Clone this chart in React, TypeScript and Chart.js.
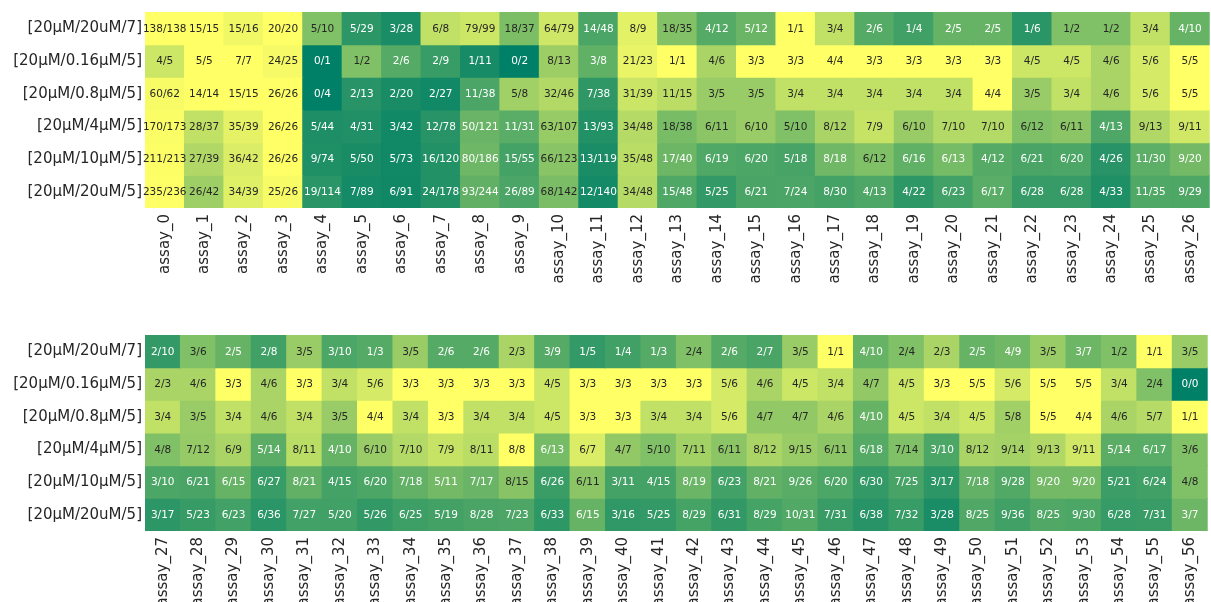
import React, { useEffect, useRef } from "react";
import { Chart, registerables } from "chart.js";

Chart.register(...registerables);

// Row conditions (same for both panels)
const conditions = [
  "[20µM/20uM/7]",
  "[20µM/0.16µM/5]",
  "[20µM/0.8µM/5]",
  "[20µM/4µM/5]",
  "[20µM/10µM/5]",
  "[20µM/20uM/5]",
];

// Upper panel: assay_0 .. assay_26
const assaysUpper = [
  "assay_0", "assay_1", "assay_2", "assay_3", "assay_4", "assay_5", "assay_6",
  "assay_7", "assay_8", "assay_9", "assay_10", "assay_11", "assay_12", "assay_13",
  "assay_14", "assay_15", "assay_16", "assay_17", "assay_18", "assay_19", "assay_20",
  "assay_21", "assay_22", "assay_23", "assay_24", "assay_25", "assay_26",
];

const upper_20_20_7 = ["138/138", "15/15", "15/16", "20/20", "5/10", "5/29", "3/28", "6/8", "79/99", "18/37", "64/79", "14/48", "8/9", "18/35", "4/12", "5/12", "1/1", "3/4", "2/6", "1/4", "2/5", "2/5", "1/6", "1/2", "1/2", "3/4", "4/10"];
const upper_20_016_5 = ["4/5", "5/5", "7/7", "24/25", "0/1", "1/2", "2/6", "2/9", "1/11", "0/2", "8/13", "3/8", "21/23", "1/1", "4/6", "3/3", "3/3", "4/4", "3/3", "3/3", "3/3", "3/3", "4/5", "4/5", "4/6", "5/6", "5/5"];
const upper_20_08_5 = ["60/62", "14/14", "15/15", "26/26", "0/4", "2/13", "2/20", "2/27", "11/38", "5/8", "32/46", "7/38", "31/39", "11/15", "3/5", "3/5", "3/4", "3/4", "3/4", "3/4", "3/4", "4/4", "3/5", "3/4", "4/6", "5/6", "5/5"];
const upper_20_4_5 = ["170/173", "28/37", "35/39", "26/26", "5/44", "4/31", "3/42", "12/78", "50/121", "11/31", "63/107", "13/93", "34/48", "18/38", "6/11", "6/10", "5/10", "8/12", "7/9", "6/10", "7/10", "7/10", "6/12", "6/11", "4/13", "9/13", "9/11"];
const upper_20_10_5 = ["211/213", "27/39", "36/42", "26/26", "9/74", "5/50", "5/73", "16/120", "80/186", "15/55", "66/123", "13/119", "35/48", "17/40", "6/19", "6/20", "5/18", "8/18", "6/12", "6/16", "6/13", "4/12", "6/21", "6/20", "4/26", "11/30", "9/20"];
const upper_20_20_5 = ["235/236", "26/42", "34/39", "25/26", "19/114", "7/89", "6/91", "24/178", "93/244", "26/89", "68/142", "12/140", "34/48", "15/48", "5/25", "6/21", "7/24", "8/30", "4/13", "4/22", "6/23", "6/17", "6/28", "6/28", "4/33", "11/35", "9/29"];

// Lower panel: assay_27 .. assay_56
const assaysLower = [
  "assay_27", "assay_28", "assay_29", "assay_30", "assay_31", "assay_32", "assay_33",
  "assay_34", "assay_35", "assay_36", "assay_37", "assay_38", "assay_39", "assay_40",
  "assay_41", "assay_42", "assay_43", "assay_44", "assay_45", "assay_46", "assay_47",
  "assay_48", "assay_49", "assay_50", "assay_51", "assay_52", "assay_53", "assay_54",
  "assay_55", "assay_56",
];

const lower_20_20_7 = ["2/10", "3/6", "2/5", "2/8", "3/5", "3/10", "1/3", "3/5", "2/6", "2/6", "2/3", "3/9", "1/5", "1/4", "1/3", "2/4", "2/6", "2/7", "3/5", "1/1", "4/10", "2/4", "2/3", "2/5", "4/9", "3/5", "3/7", "1/2", "1/1", "3/5"];
const lower_20_016_5 = ["2/3", "4/6", "3/3", "4/6", "3/3", "3/4", "5/6", "3/3", "3/3", "3/3", "3/3", "4/5", "3/3", "3/3", "3/3", "3/3", "5/6", "4/6", "4/5", "3/4", "4/7", "4/5", "3/3", "5/5", "5/6", "5/5", "5/5", "3/4", "2/4", "0/0"];
const lower_20_08_5 = ["3/4", "3/5", "3/4", "4/6", "3/4", "3/5", "4/4", "3/4", "3/3", "3/4", "3/4", "4/5", "3/3", "3/3", "3/4", "3/4", "5/6", "4/7", "4/7", "4/6", "4/10", "4/5", "3/4", "4/5", "5/8", "5/5", "4/4", "4/6", "5/7", "1/1"];
const lower_20_4_5 = ["4/8", "7/12", "6/9", "5/14", "8/11", "4/10", "6/10", "7/10", "7/9", "8/11", "8/8", "6/13", "6/7", "4/7", "5/10", "7/11", "6/11", "8/12", "9/15", "6/11", "6/18", "7/14", "3/10", "8/12", "9/14", "9/13", "9/11", "5/14", "6/17", "3/6"];
const lower_20_10_5 = ["3/10", "6/21", "6/15", "6/27", "8/21", "4/15", "6/20", "7/18", "5/11", "7/17", "8/15", "6/26", "6/11", "3/11", "4/15", "8/19", "6/23", "8/21", "9/26", "6/20", "6/30", "7/25", "3/17", "7/18", "9/28", "9/20", "9/20", "5/21", "6/24", "4/8"];
const lower_20_20_5 = ["3/17", "5/23", "6/23", "6/36", "7/27", "5/20", "5/26", "6/25", "5/19", "8/28", "7/23", "6/33", "6/15", "3/16", "5/25", "8/29", "6/31", "8/29", "10/31", "7/31", "6/38", "7/32", "3/28", "8/25", "9/36", "8/25", "9/30", "6/28", "7/31", "3/7"];

const upperRows = [upper_20_20_7, upper_20_016_5, upper_20_08_5, upper_20_4_5, upper_20_10_5, upper_20_20_5];
const lowerRows = [lower_20_20_7, lower_20_016_5, lower_20_08_5, lower_20_4_5, lower_20_10_5, lower_20_20_5];

const FONT = "'DejaVu Sans', 'Liberation Sans', sans-serif";
const TEXT_DARK = "rgb(38,38,38)";

// "passed/total" -> fraction (0 when nothing was run)
function ratio(cell: string): number {
  const [n, d] = cell.split("/").map(Number);
  return d > 0 ? n / d : 0;
}

// "summer" colour map: green (0) -> yellow (1)
function summer(v: number): [number, number, number] {
  const t = Math.min(255, Math.max(0, Math.floor(v * 256))) / 255;
  return [t, 0.5 + 0.5 * t, 0.4];
}

function css(rgb: [number, number, number]): string {
  return `rgb(${Math.round(rgb[0] * 255)},${Math.round(rgb[1] * 255)},${Math.round(rgb[2] * 255)})`;
}

function luminance(rgb: [number, number, number]): number {
  const lin = rgb.map((c) => (c <= 0.03928 ? c / 12.92 : Math.pow((c + 0.055) / 1.055, 2.4)));
  return 0.2126 * lin[0] + 0.7152 * lin[1] + 0.0722 * lin[2];
}

// Writes each cell's "passed/total" text in the middle of its rectangle
const cellText = {
  id: "cellText",
  afterDatasetsDraw(chart: any) {
    const ctx = chart.ctx;
    ctx.save();
    ctx.font = `10.5px ${FONT}`;
    ctx.textAlign = "center";
    ctx.textBaseline = "middle";
    chart.data.datasets.forEach((ds: any, di: number) => {
      const meta = chart.getDatasetMeta(di);
      meta.data.forEach((el: any, i: number) => {
        const cell = ds.cellLabels[i];
        const rgb = summer(ratio(cell));
        ctx.fillStyle = luminance(rgb) > 0.408 ? TEXT_DARK : "#ffffff";
        const p = el.getCenterPoint();
        ctx.fillText(cell, p.x, p.y + 0.5);
      });
    });
    ctx.restore();
  },
};

function buildHeatmap(canvas: HTMLCanvasElement, assays: string[], rows: string[][]) {
  const datasets = rows.map((cells, r) => ({
    label: conditions[r],
    data: cells.map(() => [r, r + 1]),
    backgroundColor: cells.map((c) => css(summer(ratio(c)))),
    cellLabels: cells,
    borderWidth: 0,
    borderSkipped: false,
    barPercentage: 1,
    categoryPercentage: 1,
    inflateAmount: 0.5,
  }));

  return new Chart(canvas, {
    type: "bar",
    data: { labels: assays, datasets: datasets as any },
    plugins: [cellText],
    options: {
      animation: false,
      responsive: false,
      events: [],
      layout: { padding: { top: 12, left: 0, right: 0, bottom: 0 } },
      plugins: { legend: { display: false }, tooltip: { enabled: false } },
      scales: {
        x: {
          type: "category",
          stacked: true,
          offset: true,
          grid: { display: false, drawTicks: false },
          border: { display: false },
          ticks: {
            autoSkip: false,
            minRotation: 90,
            maxRotation: 90,
            padding: 6,
            color: TEXT_DARK,
            font: { family: FONT, size: 15 },
          },
          afterFit(scale: any) {
            scale.height = 92;
          },
        },
        y: {
          type: "linear",
          stacked: false,
          min: 0,
          max: rows.length,
          reverse: true,
          grid: { display: false, drawTicks: false },
          border: { display: false },
          afterBuildTicks(scale: any) {
            scale.ticks = conditions.map((_, i) => ({ value: i + 0.5 }));
          },
          ticks: {
            padding: 3,
            color: TEXT_DARK,
            font: { family: FONT, size: 15 },
            callback: (_v: any, i: number) => conditions[i],
          },
          afterFit(scale: any) {
            scale.width = 145;
          },
        },
      },
    } as any,
  });
}

function Heatmap({ assays, rows, top }: { assays: string[]; rows: string[][]; top: number }) {
  const ref = useRef<HTMLCanvasElement | null>(null);
  useEffect(() => {
    if (!ref.current) return;
    const chart = buildHeatmap(ref.current, assays, rows);
    return () => chart.destroy();
  }, [assays, rows]);
  return (
    <canvas
      ref={ref}
      width={1214}
      height={300}
      style={{ position: "absolute", left: 0, top, width: 1214, height: 300 }}
    />
  );
}

export default function App() {
  return (
    <div
      style={{
        position: "fixed",
        left: 0,
        top: 0,
        width: 1211,
        height: 602,
        overflow: "hidden",
        background: "#ffffff",
      }}
    >
      <Heatmap assays={assaysUpper} rows={upperRows} top={0} />
      <Heatmap assays={assaysLower} rows={lowerRows} top={323} />
    </div>
  );
}
